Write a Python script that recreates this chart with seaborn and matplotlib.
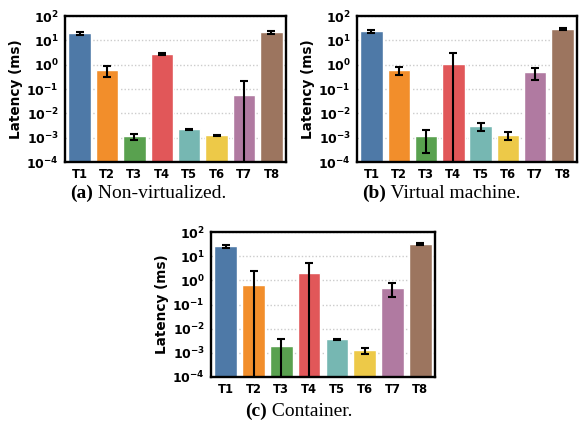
import matplotlib
matplotlib.use("Agg")
import matplotlib.pyplot as plt
import seaborn as sns
import numpy as np
import pandas as pd
from matplotlib.offsetbox import TextArea, HPacker, AnnotationBbox

# ---- data ----
labels = ["T1", "T2", "T3", "T4", "T5", "T6", "T7", "T8"]
colors = ["#4e79a7", "#f28e2b", "#59a14f", "#e15759", "#76b7b2", "#edc948", "#b07aa1", "#9c755f"]

nonvirt_vals = [20.0, 0.59, 0.00113, 2.7, 0.0022, 0.00125, 0.055, 21.5]
nonvirt_err = [3.0, 0.29, 0.00035, 0.2, 0.0001, 0.00006, 0.16, 3.5]

vm_vals = [23.5, 0.59, 0.00114, 1.03, 0.00295, 0.00126, 0.49, 28.5]
vm_err = [3.0, 0.23, 0.0009, 2.0, 0.001, 0.00045, 0.25, 3.0]

cont_vals = [25.5, 0.62, 0.00186, 1.95, 0.0036, 0.00125, 0.47, 31.0]
cont_err = [4.0, 1.8, 0.0019, 3.3, 0.0003, 0.00038, 0.27, 3.0]

ytick_vals = [1e-4, 1e-3, 1e-2, 1e-1, 1e0, 1e1, 1e2]
ytick_labels = [r"$\mathbf{10^{-4}}$", r"$\mathbf{10^{-3}}$", r"$\mathbf{10^{-2}}$",
                r"$\mathbf{10^{-1}}$", r"$\mathbf{10^{0}}$", r"$\mathbf{10^{1}}$",
                r"$\mathbf{10^{2}}$"]

captions = [("(a)", " Non-virtualized."), ("(b)", " Virtual machine."), ("(c)", " Container.")]

# ---- style ----
sns.set_style("white")
plt.rcParams["font.family"] = ["DejaVu Sans"]
plt.rcParams["mathtext.fontset"] = "dejavusans"
plt.rcParams["text.color"] = "black"
plt.rcParams["axes.labelcolor"] = "black"
plt.rcParams["xtick.labelcolor"] = "black"
plt.rcParams["ytick.labelcolor"] = "black"

fig = plt.figure(figsize=(5.79, 4.25), dpi=100)

axes_pos = [
    [65 / 579, 1 - 162 / 425, 221 / 579, 146 / 425],
    [357 / 579, 1 - 162 / 425, 220 / 579, 146 / 425],
    [211 / 579, 1 - 377 / 425, 224 / 579, 145 / 425],
]
caption_pos = [(148 / 579, 1 - 193 / 425), (441 / 579, 1 - 193 / 425), (299 / 579, 1 - 411 / 425)]

datasets = [(nonvirt_vals, nonvirt_err), (vm_vals, vm_err), (cont_vals, cont_err)]

for i, (vals, errs) in enumerate(datasets):
    ax = fig.add_axes(axes_pos[i])
    df = pd.DataFrame({"task": labels, "latency": vals})
    sns.barplot(data=df, x="task", y="latency", hue="task", palette=colors,
                legend=False, width=0.82, ax=ax, zorder=2, saturation=1)
    ax.set_yscale("log")
    ax.errorbar(np.arange(len(labels)), vals, yerr=errs, fmt="none", ecolor="black",
                elinewidth=1.5, capsize=2.6, capthick=1.5, zorder=3)
    ax.set_ylim(1e-4, 1e2)
    ax.set_xlim(-0.53, 7.53)
    ax.set_yticks(ytick_vals)
    ax.set_yticklabels(ytick_labels)
    ax.minorticks_off()
    ax.yaxis.grid(True, linestyle=(0, (1, 1.5)), color="#cccccc", linewidth=1.0, zorder=0)
    ax.set_axisbelow(True)
    ax.set_xlabel("")
    ax.set_ylabel("Latency (ms)", fontsize=9.8, fontweight="bold", labelpad=2, color="black")
    ax.tick_params(axis="both", which="major", length=2.5, width=0.8, color="#888888",
                   labelcolor="black", pad=2)
    ax.tick_params(axis="y", labelsize=9)
    ax.tick_params(axis="x", labelsize=8.3)
    for lbl in ax.get_xticklabels():
        lbl.set_fontweight("bold")
    for sp in ax.spines.values():
        sp.set_visible(True)
        sp.set_color("black")
        sp.set_linewidth(1.7)

    bold, rest = captions[i]
    t1 = TextArea(bold, textprops=dict(family="Liberation Serif", fontweight="bold",
                                       fontsize=14, color="black"))
    t2 = TextArea(rest, textprops=dict(family="Liberation Serif", fontsize=14, color="black"))
    box = HPacker(children=[t1, t2], align="baseline", pad=0, sep=0)
    ab = AnnotationBbox(box, caption_pos[i], xycoords="figure fraction", frameon=False,
                        box_alignment=(0.5, 0.5), pad=0)
    fig.add_artist(ab)

fig.savefig("out.png", dpi=100)
